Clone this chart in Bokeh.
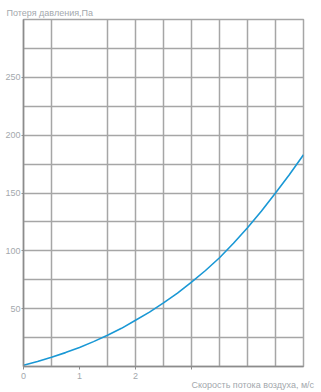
from bokeh.plotting import figure
from bokeh.models import FixedTicker, Range1d, Title
from bokeh.embed import file_html
from bokeh.resources import INLINE

# data (air speed m/s -> pressure loss Pa)
speed = [0, 0.25, 0.5, 0.75, 1.0, 1.25, 1.5, 1.75, 2.0, 2.25, 2.5, 2.75,
         3.0, 3.25, 3.5, 3.75, 4.0, 4.25, 4.5, 4.75, 5.0]
loss = [1, 4.3, 8, 12, 16.5, 21.5, 27, 33, 40, 47, 55, 63.5,
        73, 83, 94, 106.5, 120, 134.5, 150, 166, 183]

x_ticks = [0, 1, 2, 3]
x_tick_labels = {0: "0", 1: "1", 2: "2", 3: ""}
x_grid = [0.5, 1.5, 2, 2.5, 3, 3.5, 4, 4.5, 5]
y_ticks = [50, 100, 150, 200, 250]
y_grid = [25, 50, 75, 100, 125, 150, 175, 200, 225, 250, 275, 300]
y_title = "Потеря давления,Па"
x_title = "Скорость потока воздуха, м/с"

TEXT = "#a3a8ad"
GRID = "#a6a6a6"
AXIS = "#8c8c8c"
FONT = "Liberation Sans"
FS = "9px"

p = figure(width=321, height=392, output_backend="svg", toolbar_location=None,
           x_range=Range1d(0, 5), y_range=Range1d(0, 300),
           min_border_left=23, min_border_right=18, min_border_top=19, min_border_bottom=26)
p.background_fill_color = "white"
p.border_fill_color = "white"
p.outline_line_color = GRID
p.outline_line_width = 1.5

p.xgrid.ticker = FixedTicker(ticks=x_grid)
p.ygrid.ticker = FixedTicker(ticks=y_grid)
p.xgrid.grid_line_color = GRID
p.ygrid.grid_line_color = GRID
p.xgrid.grid_line_width = 1.5
p.ygrid.grid_line_width = 1.5

xa = p.xaxis[0]
xa.ticker = FixedTicker(ticks=x_ticks)
xa.major_label_overrides = x_tick_labels
xa.axis_line_color = AXIS
xa.axis_line_width = 1.5
xa.major_tick_line_color = AXIS
xa.major_tick_out = 3
xa.major_tick_in = 0
xa.minor_tick_line_color = None
xa.major_label_standoff = 3
xa.major_label_text_color = TEXT
xa.major_label_text_font = FONT
xa.major_label_text_font_size = FS

ya = p.yaxis[0]
ya.ticker = FixedTicker(ticks=y_ticks)
ya.axis_line_color = AXIS
ya.axis_line_width = 1.5
ya.major_tick_line_color = AXIS
ya.major_tick_out = 2
ya.major_tick_in = 0
ya.minor_tick_line_color = None
ya.major_label_standoff = 1
ya.major_label_text_color = TEXT
ya.major_label_text_font = FONT
ya.major_label_text_font_size = FS

p.line(speed, loss, line_color="#1a98d5", line_width=1.6)

p.add_layout(Title(text=y_title, align="left", offset=-17, standoff=4,
                   text_color=TEXT, text_font=FONT, text_font_size=FS,
                   text_font_style="normal"), "above")
p.add_layout(Title(text=x_title, align="left", offset=168, standoff=-16,
                   text_color=TEXT, text_font=FONT, text_font_size=FS,
                   text_font_style="normal"), "below")

open("out.html", "w").write(file_html(p, INLINE))
